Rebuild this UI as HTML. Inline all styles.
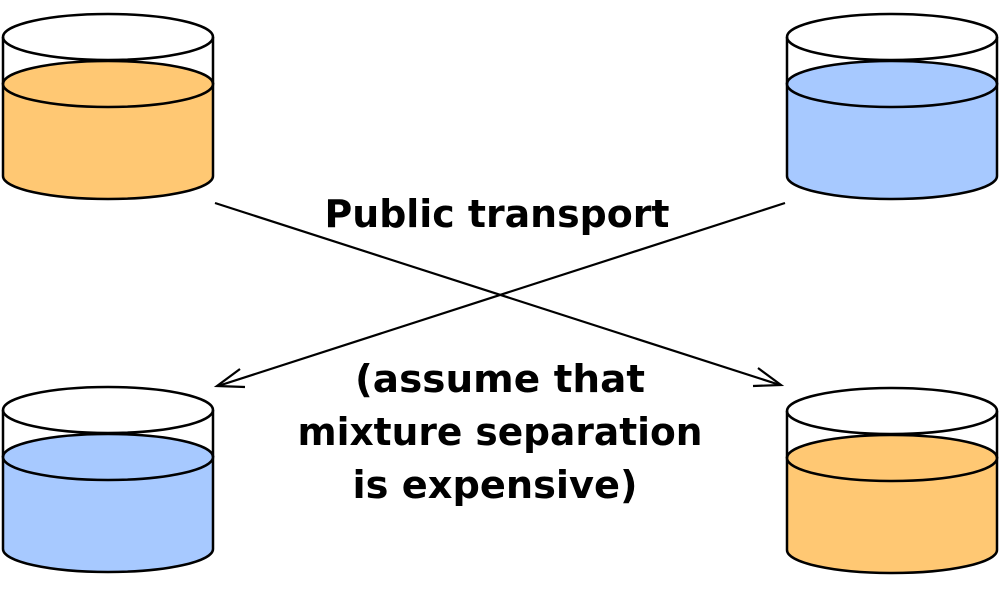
<!DOCTYPE html>
<html><head><style>html,body{margin:0;padding:0;background:#fff}svg{display:block}</style></head>
<body>
<svg width="1000" height="594" viewBox="0 0 1000 594" xmlns="http://www.w3.org/2000/svg">
<g transform="translate(3,37)">
  <ellipse cx="105" cy="0" rx="105" ry="23" fill="#fff" stroke="#000" stroke-width="2.5"/>
  <path d="M0,47 L0,139 A105,23 0 0 0 210,139 L210,47 Z" fill="#ffc873" stroke="#000" stroke-width="2.5"/>
  <ellipse cx="105" cy="47" rx="105" ry="23" fill="#ffc873" stroke="#000" stroke-width="2.5"/>
  <path d="M0,0 L0,47 M210,0 L210,47" stroke="#000" stroke-width="2.5"/>
</g>
<g transform="translate(787,37)">
  <ellipse cx="105" cy="0" rx="105" ry="23" fill="#fff" stroke="#000" stroke-width="2.5"/>
  <path d="M0,47 L0,139 A105,23 0 0 0 210,139 L210,47 Z" fill="#a7c9ff" stroke="#000" stroke-width="2.5"/>
  <ellipse cx="105" cy="47" rx="105" ry="23" fill="#a7c9ff" stroke="#000" stroke-width="2.5"/>
  <path d="M0,0 L0,47 M210,0 L210,47" stroke="#000" stroke-width="2.5"/>
</g>
<g transform="translate(3,410)">
  <ellipse cx="105" cy="0" rx="105" ry="23" fill="#fff" stroke="#000" stroke-width="2.5"/>
  <path d="M0,47 L0,139 A105,23 0 0 0 210,139 L210,47 Z" fill="#a7c9ff" stroke="#000" stroke-width="2.5"/>
  <ellipse cx="105" cy="47" rx="105" ry="23" fill="#a7c9ff" stroke="#000" stroke-width="2.5"/>
  <path d="M0,0 L0,47 M210,0 L210,47" stroke="#000" stroke-width="2.5"/>
</g>
<g transform="translate(787,411)">
  <ellipse cx="105" cy="0" rx="105" ry="23" fill="#fff" stroke="#000" stroke-width="2.5"/>
  <path d="M0,47 L0,139 A105,23 0 0 0 210,139 L210,47 Z" fill="#ffc873" stroke="#000" stroke-width="2.5"/>
  <ellipse cx="105" cy="47" rx="105" ry="23" fill="#ffc873" stroke="#000" stroke-width="2.5"/>
  <path d="M0,0 L0,47 M210,0 L210,47" stroke="#000" stroke-width="2.5"/>
</g>
<!-- arrows -->
<line x1="215" y1="203" x2="780" y2="385" stroke="#000" stroke-width="2.2"/>
<path d="M758,368 L781,385 L753,386" fill="none" stroke="#000" stroke-width="2.2"/>
<line x1="785" y1="203" x2="218" y2="386" stroke="#000" stroke-width="2.2"/>
<path d="M240,369 L217,386 L245,387" fill="none" stroke="#000" stroke-width="2.2"/>
<!-- text -->
<g font-family="DejaVu Sans, Liberation Sans, sans-serif" font-weight="bold" font-size="38" fill="#000" text-anchor="middle">
  <text x="497" y="227" textLength="345" lengthAdjust="spacingAndGlyphs">Public transport</text>
  <text x="500" y="392" textLength="290" lengthAdjust="spacingAndGlyphs">(assume that</text>
  <text x="500" y="445" textLength="405" lengthAdjust="spacingAndGlyphs">mixture separation</text>
  <text x="495" y="498" textLength="285" lengthAdjust="spacingAndGlyphs">is expensive)</text>
</g>
</svg>
</body></html>
